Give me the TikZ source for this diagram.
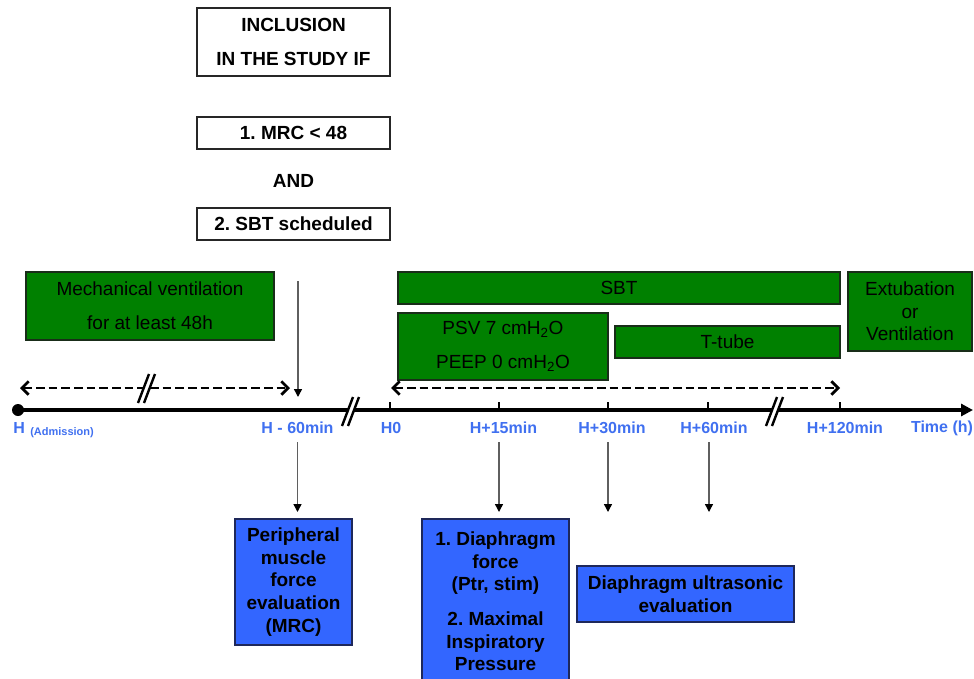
\documentclass[tikz,border=0pt]{standalone}
\usepackage{fontspec}
\setmainfont{Liberation Sans}
\usetikzlibrary{arrows.meta}
\definecolor{grn}{RGB}{0,128,0}
\definecolor{grnb}{RGB}{25,45,25}
\definecolor{blu}{RGB}{51,102,255}
\definecolor{blub}{RGB}{30,40,90}
\definecolor{lbl}{RGB}{64,112,240}
\definecolor{arrg}{RGB}{95,95,95}
\frenchspacing
\begin{document}
\begin{tikzpicture}[x=0.75pt,y=-0.75pt,
  wbox/.style={draw=black!85, line width=0.9pt, fill=white, inner sep=0pt, align=center, font=\bfseries\fontsize{14.25}{25.5}\selectfont},
  gbox/.style={draw=grnb, line width=0.9pt, fill=grn, inner sep=0pt, align=center, font=\fontsize{14.25}{25.5}\selectfont},
  bbox/.style={draw=blub, line width=0.9pt, fill=blu, inner sep=0pt, align=center, font=\bfseries\fontsize{14.25}{17}\selectfont},
  tlabel/.style={text=lbl, font=\bfseries\fontsize{12}{14}\selectfont, inner sep=0pt},
  tickmark/.style={line width=1.2pt},
  dasharr/.style={line width=2.1pt, dash pattern=on 6.5pt off 3pt,
    {Straight Barb[length=5pt,width=10pt,line width=2.1pt]}-{Straight Barb[length=5pt,width=10pt,line width=2.1pt]}},
  downarr/.style={draw=arrg, line width=1.1pt, -{Triangle[length=6pt,width=6pt,color=black]}},
  slashline/.style={line width=1.8pt}
]
\useasboundingbox (0,0) rectangle (974,678);

% inclusion boxes
\node[wbox, minimum width=144.75pt, minimum height=51pt] (inc) at (293.5,42) {INCLUSION\\IN THE STUDY IF};
\node[wbox, minimum width=144.75pt, minimum height=24pt] (mrc) at (293.5,133) {1. MRC < 48};
\node[font=\bfseries\fontsize{14.25}{17}\selectfont, inner sep=0pt] (and) at (293.5,181) {AND};
\node[wbox, minimum width=144.75pt, minimum height=24pt] (sbts) at (293.5,224) {2. SBT scheduled};

% green boxes
\node[gbox, minimum width=186pt, minimum height=51pt] (mv) at (150,306) {Mechanical ventilation\\for at least 48h};
\node[gbox, minimum width=331.5pt, minimum height=24pt] (sbt) at (619,288) {SBT};
\node[gbox, minimum width=157.5pt, minimum height=50.25pt] (psv) at (503,346.5) {PSV 7 cmH\textsubscript{2}O\\PEEP 0 cmH\textsubscript{2}O};
\node[gbox, minimum width=168.75pt, minimum height=24pt] (tt) at (727.5,342) {T-tube};
\node[gbox, minimum width=93pt, minimum height=59.25pt, font=\fontsize{14.25}{17}\selectfont] (ext) at (910,311.5) {Extubation\\or\\Ventilation};

% dashed arrows
\coordinate (dl1) at (20,388);
\coordinate (dl2) at (290,388);
\coordinate (dr1) at (391,388);
\coordinate (dr2) at (840,388);
\draw[dasharr] (dl1) -- (dl2);
\draw[dasharr] (dr1) -- (dr2);
\begin{scope}[shift={(146,388)}]
  \fill[white] (-8,15) -- (3,-14) -- (9,-14) -- (-2,15) -- cycle;
  \draw[slashline] (-8,15) -- (3,-14);
  \draw[slashline] (-2,15) -- (9,-14);
\end{scope}

% arrow from inclusion
\coordinate (ia1) at (298,281);
\coordinate (ia2) at (298,397);
\draw[downarr] (ia1) -- (ia2);

% timeline
\coordinate (t0) at (18,410);
\coordinate (tend) at (973,410);
\draw[line width=2.5pt, -{Triangle[length=9pt,width=9pt]}] (t0) -- (tend);
\fill (t0) circle (6);
\foreach \x in {390,499,608,708,840} \draw[tickmark] (\x,410) -- (\x,402);
\foreach \cx in {350,774} {
\begin{scope}[shift={(\cx,411)}]
  \fill[white] (-8,15) -- (3,-14) -- (9,-14) -- (-2,15) -- cycle;
  \draw[slashline] (-8,15) -- (3,-14);
  \draw[slashline] (-2,15) -- (9,-14);
\end{scope}
}

% labels
\node[tlabel, anchor=west] (lh) at (13,428) {H};
\node[tlabel, anchor=west, font=\bfseries\fontsize{8.25}{10}\selectfont] (ladm) at (30,433) {(Admission)};
\node[tlabel] (l60m) at (297.5,428) {H - 60min};
\node[tlabel] (lh0) at (391,428) {H0};
\node[tlabel] (l15) at (503.5,428) {H+15min};
\node[tlabel] (l30) at (612,428) {H+30min};
\node[tlabel] (l60) at (714,428) {H+60min};
\node[tlabel] (l120) at (845,428) {H+120min};
\node[tlabel] (ltime) at (942,428) {Time (h)};

% blue boxes
\node[bbox, minimum width=87.75pt, minimum height=94.5pt] (per) at (293.5,582) {Peripheral\\muscle\\force\\evaluation\\(MRC)};
\node[bbox, minimum width=110.25pt, minimum height=123.75pt] (dia) at (495.5,601.5) {1. Diaphragm\\force\\(Ptr, stim)\\[9pt]2. Maximal\\Inspiratory\\Pressure};
\node[bbox, minimum width=162.75pt, minimum height=42pt] (us) at (685.5,594) {Diaphragm ultrasonic\\evaluation};

% down arrows
\coordinate (a1s) at (297.5,442); \coordinate (a1e) at (297.5,512);
\coordinate (a2s) at (499,442); \coordinate (a2e) at (499,512);
\coordinate (a3s) at (608,442); \coordinate (a3e) at (608,512);
\coordinate (a4s) at (709,442); \coordinate (a4e) at (709,512);
\draw[downarr] (a1s) -- (a1e);
\draw[downarr] (a2s) -- (a2e);
\draw[downarr] (a3s) -- (a3e);
\draw[downarr] (a4s) -- (a4e);
\end{tikzpicture}
\end{document}
